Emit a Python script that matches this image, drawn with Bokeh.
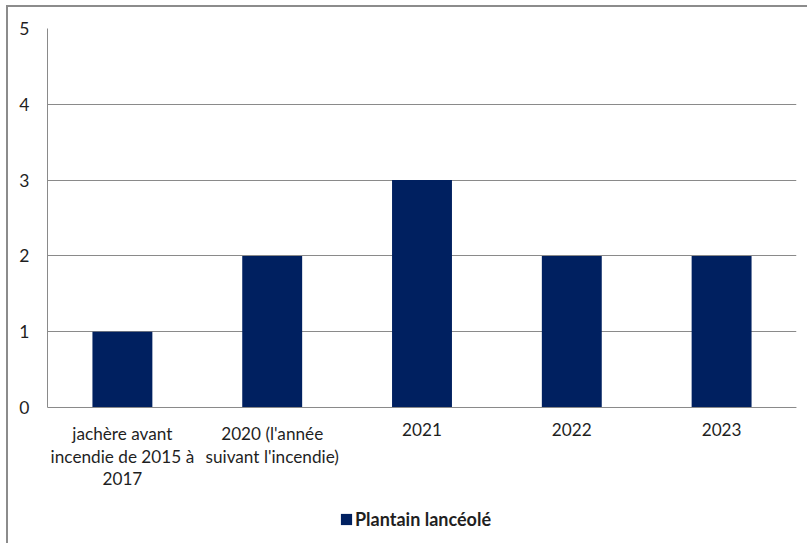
from bokeh.plotting import figure
from bokeh.models import Legend, LegendItem, ColumnDataSource, Span
from bokeh.core.properties import value
from bokeh.embed import file_html
from bokeh.resources import INLINE

categories = ["jachère avant\nincendie de 2015 à\n2017", "2020 (l'année\nsuivant l'incendie)", "2021", "2022", "2023"]
values = [1, 2, 3, 2, 2]
series_name = "Plantain lancéolé"
y_ticks = [0, 1, 2, 3, 4, 5]

FONT = "Lato"
TXT = "#1f1f1f"
GRID = "#8a8a8a"

src = ColumnDataSource(dict(cat=categories, val=values, base=[0] * len(values)))

p = figure(x_range=categories, y_range=(-1.8206, 5), width=801, height=538,
           output_backend="svg", toolbar_location=None, x_axis_location=None,
           min_border_left=39, min_border_top=21, min_border_right=13, min_border_bottom=0)
p.styles = {"margin-left": "6px", "margin-top": "5px",
            "border-left": "2px solid #8c8c8c", "border-top": "2px solid #8c8c8c"}

r = p.vbar(x="cat", top="val", width=0.4, source=src, fill_color="#002060", line_color=None)

p.outline_line_color = None
p.xgrid.grid_line_color = None
p.ygrid.ticker = y_ticks
p.ygrid.grid_line_color = GRID
p.ygrid.grid_line_width = 1

p.yaxis.ticker = y_ticks
p.yaxis.bounds = (0, 5)
p.yaxis.axis_line_color = GRID
p.yaxis.major_tick_line_color = None
p.yaxis.major_tick_out = 0
p.yaxis.major_tick_in = 0
p.yaxis.minor_tick_line_color = None
p.yaxis.major_label_text_font = FONT
p.yaxis.major_label_text_font_size = "17.5px"
p.yaxis.major_label_text_color = TXT
p.yaxis.major_label_standoff = 18

# category axis line and labels along y = 0
p.add_layout(Span(location=0, dimension="width", line_color=GRID, line_width=1))
p.text(x="cat", y="base", text="cat", source=src, y_offset=16,
       text_align="center", text_baseline="top", text_line_height=1.05,
       text_font=value(FONT), text_font_size="17.2px", text_color=TXT)

legend = Legend(items=[LegendItem(label=series_name, renderers=[r])],
                location=(292, 15), orientation="horizontal",
                padding=0, margin=0, spacing=0, glyph_width=14, glyph_height=14,
                label_standoff=2, border_line_color=None, background_fill_alpha=0,
                label_text_font=FONT, label_text_font_style="bold",
                label_text_font_size="18px", label_text_color=TXT)
p.add_layout(legend, "center")

open("out.html", "w").write(file_html(p, INLINE))
